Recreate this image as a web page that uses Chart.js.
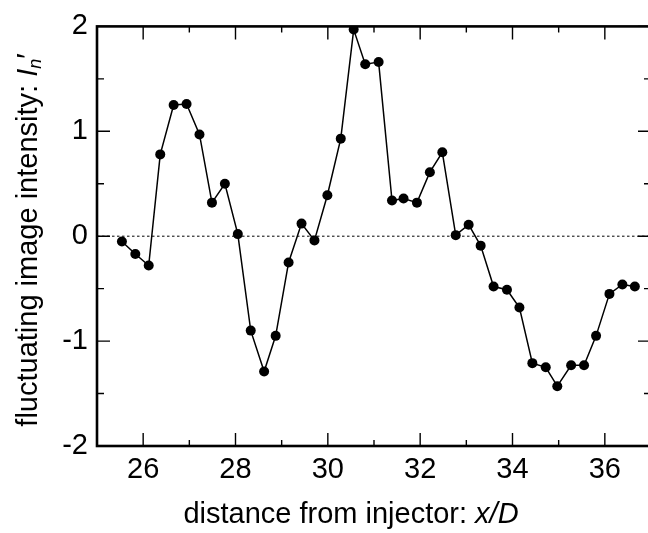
<!DOCTYPE html>
<html>
<head>
<meta charset="utf-8">
<script src="https://cdn.jsdelivr.net/npm/chart.js@4"></script>
<style>
  html, body { margin: 0; padding: 0; background: #fff; overflow: hidden; }
  /* plot frame runs a few px past the right edge, as in the source figure */
  #wrap { width: 656px; height: 533px; }
</style>
</head>
<body>
<div id="wrap"><canvas id="fluctChart"></canvas></div>
<script>
// data
const xPos = [25.54, 25.83, 26.12, 26.37, 26.66, 26.94, 27.22, 27.49, 27.77, 28.05,
              28.33, 28.62, 28.87, 29.15, 29.43, 29.71, 29.99, 30.28, 30.56, 30.81,
              31.10, 31.39, 31.64, 31.93, 32.21, 32.48, 32.77, 33.05, 33.31, 33.59,
              33.88, 34.15, 34.43, 34.72, 34.97, 35.27, 35.55, 35.81, 36.10, 36.38, 36.65]
const intensity = [-0.05, -0.17, -0.28, 0.78, 1.25, 1.26, 0.97, 0.32, 0.50, 0.02,
                   -0.90, -1.29, -0.95, -0.25, 0.12, -0.04, 0.39, 0.93, 1.97, 1.64,
                   1.66, 0.34, 0.36, 0.32, 0.61, 0.80, 0.01, 0.11, -0.09, -0.48,
                   -0.51, -0.68, -1.21, -1.25, -1.43, -1.23, -1.23, -0.95, -0.55, -0.46, -0.48]
const xTicks = [26, 28, 30, 32, 34, 36]
const xMinorTicks = [27, 29, 31, 33, 35]
const yTicks = [-2, -1, 0, 1, 2]
const yMinorTicks = [-1.5, -0.5, 0.5, 1.5]
const xRange = [25, 37]
const yRange = [-2, 2]

const FONT = '"Liberation Sans", Arial, Helvetica, sans-serif'

/*===== inward ticks + axis titles =====*/
const frameTicks = {
    id: 'frameTicks',
    afterDraw(chart){
        const {ctx, chartArea: a, scales: {x, y}} = chart
        ctx.save()
        ctx.strokeStyle = '#000'
        ctx.lineWidth = 1.4
        ctx.beginPath()
        const tickX = (v, len) => {
            const px = x.getPixelForValue(v)
            ctx.moveTo(px, a.bottom); ctx.lineTo(px, a.bottom - len)
            ctx.moveTo(px, a.top); ctx.lineTo(px, a.top + len)
        }
        const tickY = (v, len) => {
            const py = y.getPixelForValue(v)
            ctx.moveTo(a.left, py); ctx.lineTo(a.left + len, py)
            ctx.moveTo(a.right, py); ctx.lineTo(a.right - len, py)
        }
        xTicks.forEach(v => tickX(v, 13))
        xMinorTicks.forEach(v => tickX(v, 6))
        yTicks.forEach(v => tickY(v, 13))
        yMinorTicks.forEach(v => tickY(v, 7))
        ctx.stroke()

        // frame
        ctx.lineWidth = 2.6
        ctx.strokeRect(a.left, a.top, a.right - a.left, a.bottom - a.top)

        ctx.fillStyle = '#000'
        ctx.textBaseline = 'alphabetic'
        ctx.textAlign = 'left'

        // x title
        drawParts(ctx, [['distance from injector: ', 'normal', 29, 0], ['x/D', 'italic', 29, 0]], 351, 523)

        // y title (rotated)
        ctx.translate(37, 240)
        ctx.rotate(-Math.PI / 2)
        drawParts(ctx, [['fluctuating image intensity: ', 'normal', 29, 0], ['I', 'italic', 29, 0],
                        ['n', 'italic', 18, 4], ['\u2032', 'normal', 29, 0]], 0, 0)
        ctx.restore()
    }
}

function drawParts(ctx, parts, cxCenter, baseY){
    let total = 0
    parts.forEach(([t, st, sz]) => { ctx.font = st + ' ' + sz + 'px ' + FONT; total += ctx.measureText(t).width })
    let cx = cxCenter - total / 2
    parts.forEach(([t, st, sz, dy]) => {
        ctx.font = st + ' ' + sz + 'px ' + FONT
        ctx.fillText(t, cx, baseY + dy)
        cx += ctx.measureText(t).width
    })
}

const ctx = document.getElementById('fluctChart').getContext('2d')
const myChart = new Chart(ctx, {
    type: 'scatter',
    data: {
        datasets: [{
            label: 'intensity',
            data: xPos.map((v, i) => ({x: v, y: intensity[i]})),
            showLine: true,
            borderColor: '#000',
            backgroundColor: '#000',
            borderWidth: 1.5,
            pointRadius: 5,
            pointBorderWidth: 0,
            order: 1
        }, {
            label: 'zero',
            data: [{x: xRange[0], y: 0}, {x: xRange[1], y: 0}],
            showLine: true,
            borderColor: '#000',
            borderWidth: 1,
            borderDash: [2.5, 2.5],
            pointRadius: 0,
            order: 2
        }]
    },
    options: {
        responsive: true,
        maintainAspectRatio: false,
        animation: false,
        events: [],
        layout: { padding: { top: 23, right: 4, left: 0, bottom: 0 } },
        plugins: { legend: { display: false }, tooltip: { enabled: false } },
        scales: {
            x: {
                type: 'linear',
                min: xRange[0],
                max: xRange[1],
                afterBuildTicks: s => { s.ticks = xTicks.map(v => ({value: v})) },
                afterFit: s => { s.height = 87 },
                grid: { display: false, drawTicks: false },
                border: { display: false },
                ticks: {
                    color: '#000',
                    font: { family: FONT, size: 29 },
                    padding: 7,
                    maxRotation: 0
                }
            },
            y: {
                min: yRange[0],
                max: yRange[1],
                afterBuildTicks: s => { s.ticks = yTicks.map(v => ({value: v})) },
                afterFit: s => { s.width = 97 },
                grid: { display: false, drawTicks: false },
                border: { display: false },
                ticks: {
                    color: '#000',
                    font: { family: FONT, size: 29 },
                    padding: 9
                }
            }
        }
    },
    plugins: [frameTicks]
})
</script>
</body>
</html>
